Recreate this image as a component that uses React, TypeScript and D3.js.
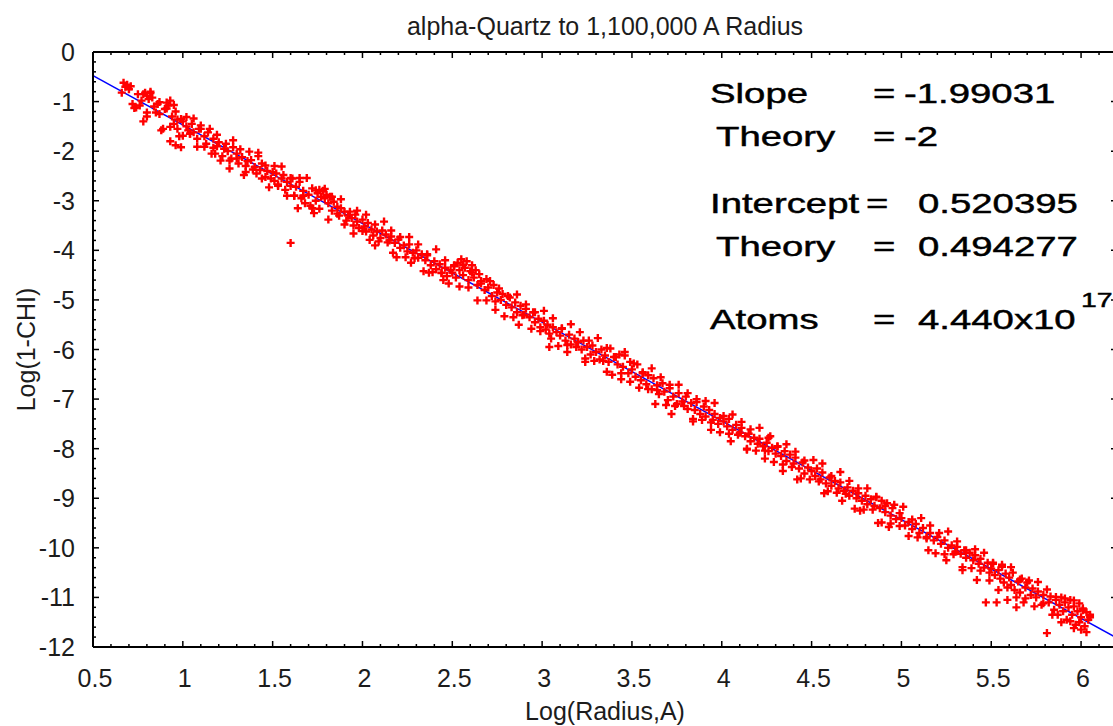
import React from 'react';
import * as d3 from 'd3';

// chart text
const TITLE = 'alpha-Quartz to 1,100,000 A Radius';
const X_LABEL = 'Log(Radius,A)';
const Y_LABEL = 'Log(1-CHI)';

// fit results printed on the chart
const SLOPE = -1.99031;
const INTERCEPT = 0.520395;

const X_TICKS = [0.5, 1, 1.5, 2, 2.5, 3, 3.5, 4, 4.5, 5, 5.5, 6];
const Y_TICKS = [0, -1, -2, -3, -4, -5, -6, -7, -8, -9, -10, -11, -12];

// scatter points, by band of Log(Radius)
const band1: [number, number][] = [
  [0.67, -0.62], [0.68, -0.7], [0.69, -0.66], [0.7, -0.75], [0.66, -0.82], [0.72, -1.05], [0.74, -1.12], [0.76, -1.08],
  [0.77, -0.98], [0.79, -0.82], [0.8, -0.88], [0.81, -0.95], [0.82, -0.8], [0.83, -0.92], [0.78, -1.4], [0.8, -1.3],
  [0.84, -1.1], [0.86, -1.05], [0.87, -1.25], [0.88, -1.58], [0.9, -1.15], [0.91, -1.02], [0.92, -1.08], [0.93, -0.98],
  [0.94, -1.3], [0.95, -1.45], [0.96, -1.2], [0.97, -1.55], [0.98, -1.7], [0.99, -1.35], [1.0, -1.4], [0.93, -1.8],
  [0.96, -1.88], [0.99, -1.92], [1.02, -1.5], [1.03, -1.58],
  [0.71, -0.69], [0.73, -1.13], [0.75, -0.85], [0.78, -0.85], [0.8, -1.22], [0.82, -0.83], [0.85, -1.22], [0.87, -1.01],
  [0.89, -1.55], [0.91, -1.14], [0.93, -1.51], [0.95, -1.07], [0.97, -1.36], [1.0, -1.69],
];
const band2: [number, number][] = [
  [1.04, -1.65], [1.05, -1.45], [1.06, -1.62], [1.08, -1.75], [1.09, -1.55], [1.1, -1.48], [1.12, -1.7], [1.13, -1.85],
  [1.14, -1.62], [1.16, -2.05], [1.17, -1.75], [1.19, -1.9], [1.2, -1.82], [1.22, -2.1], [1.23, -1.95], [1.25, -2.0],
  [1.27, -2.15], [1.28, -1.92], [1.3, -2.05], [1.31, -2.25], [1.33, -2.12], [1.35, -2.3], [1.36, -2.2], [1.38, -2.18],
  [1.4, -2.32], [1.41, -2.45], [1.43, -2.38], [1.44, -2.25], [1.46, -2.52], [1.47, -2.4], [1.49, -2.55], [1.5, -2.42],
  [1.18, -2.05], [1.26, -2.35], [1.34, -2.48], [1.42, -2.1],
  [1.02, -1.31], [1.04, -1.65], [1.06, -1.34], [1.08, -1.91], [1.1, -1.55], [1.12, -1.91], [1.15, -1.55], [1.17, -1.93],
  [1.19, -1.67], [1.21, -2.19], [1.24, -1.85], [1.26, -2.19], [1.28, -1.78], [1.3, -2.15], [1.32, -1.96], [1.35, -2.42],
  [1.37, -2.01], [1.39, -2.37], [1.42, -2.03], [1.44, -2.55], [1.46, -2.29], [1.48, -2.73],
];
const band3: [number, number][] = [
  [1.51, -2.6], [1.52, -2.45], [1.53, -2.7], [1.55, -2.55], [1.56, -2.48], [1.57, -2.78], [1.58, -2.62], [1.6, -3.85],
  [1.6, -2.7], [1.61, -2.55], [1.62, -2.9], [1.63, -2.72], [1.65, -2.62], [1.66, -2.95], [1.67, -2.8], [1.68, -3.05],
  [1.7, -2.88], [1.71, -3.1], [1.72, -2.75], [1.74, -3.0], [1.75, -2.85], [1.76, -2.78], [1.77, -2.92], [1.78, -2.8],
  [1.79, -2.95], [1.8, -2.88], [1.81, -3.05], [1.82, -2.92], [1.83, -3.2], [1.84, -3.02], [1.86, -3.12], [1.87, -3.3],
  [1.88, -3.15], [1.9, -3.22], [1.91, -3.4], [1.92, -3.3], [1.94, -3.35], [1.95, -3.5], [1.96, -3.28], [1.97, -3.42],
  [1.98, -3.55], [2.0, -3.38], [1.64, -3.15], [1.73, -3.25],
  [1.51, -2.3], [1.53, -2.67], [1.55, -2.31], [1.58, -2.9], [1.6, -2.54], [1.62, -2.9], [1.65, -2.54], [1.67, -2.9],
  [1.69, -2.54], [1.72, -3.15], [1.74, -2.79], [1.76, -3.16], [1.79, -2.76], [1.81, -3.38], [1.83, -2.92], [1.86, -3.26],
  [1.88, -2.97], [1.9, -3.48], [1.93, -3.22], [1.95, -3.66], [1.97, -3.2], [2.0, -3.61],
];
const band4: [number, number][] = [
  [2.01, -3.52], [2.02, -3.62], [2.03, -3.45], [2.05, -3.58], [2.06, -3.7], [2.08, -3.62], [2.1, -3.75], [2.11, -3.6],
  [2.13, -3.68], [2.15, -3.8], [2.16, -3.72], [2.18, -3.85], [2.2, -3.78], [2.21, -3.95], [2.23, -3.9], [2.25, -4.02],
  [2.26, -3.88], [2.28, -4.05], [2.3, -4.0], [2.31, -4.15], [2.33, -4.08], [2.35, -4.2], [2.36, -4.1], [2.38, -4.3],
  [2.4, -4.22], [2.41, -4.38], [2.43, -4.28], [2.44, -4.45], [2.46, -4.35], [2.47, -4.52], [2.49, -4.4], [2.07, -3.9],
  [2.17, -4.05], [2.27, -4.25], [2.37, -4.45], [2.45, -4.6],
  [2.02, -3.28], [2.04, -3.79], [2.07, -3.48], [2.09, -3.82], [2.12, -3.42], [2.14, -3.84], [2.16, -3.6], [2.19, -4.14],
  [2.21, -3.73], [2.24, -4.14], [2.26, -3.73], [2.29, -4.16], [2.31, -3.88], [2.34, -4.42], [2.36, -4.08], [2.39, -4.44],
  [2.41, -3.98], [2.44, -4.46], [2.46, -4.2], [2.48, -4.67],
];
const band5: [number, number][] = [
  [2.5, -4.45], [2.51, -4.3], [2.52, -4.55], [2.53, -4.25], [2.54, -4.4], [2.55, -4.18], [2.56, -4.5], [2.57, -4.35],
  [2.58, -4.22], [2.59, -4.6], [2.6, -4.42], [2.61, -4.3], [2.62, -4.55], [2.63, -4.4], [2.64, -4.7], [2.65, -4.48],
  [2.66, -4.62], [2.68, -4.8], [2.69, -4.58], [2.7, -4.75], [2.72, -4.92], [2.73, -4.7], [2.75, -4.85], [2.77, -5.0],
  [2.78, -4.88], [2.8, -5.1], [2.82, -4.95], [2.83, -5.15], [2.85, -5.05], [2.86, -5.25], [2.88, -5.12], [2.9, -5.3],
  [2.91, -5.18], [2.93, -5.35], [2.95, -5.25], [2.96, -5.45], [2.98, -5.38], [2.99, -5.55], [2.74, -5.2], [2.87, -5.5],
  [2.51, -4.32], [2.54, -4.73], [2.56, -4.29], [2.59, -4.75], [2.61, -4.45], [2.64, -5.01], [2.66, -4.67], [2.69, -5.01],
  [2.71, -4.62], [2.74, -5.03], [2.76, -4.77], [2.79, -5.33], [2.81, -4.92], [2.84, -5.35], [2.86, -4.89], [2.89, -5.31],
  [2.91, -5.09], [2.94, -5.58], [2.96, -5.25], [2.99, -5.63],
];
const band6: [number, number][] = [
  [3.01, -5.42], [3.02, -5.6], [3.03, -5.5], [3.05, -5.78], [3.06, -5.55], [3.08, -5.65], [3.1, -5.72], [3.11, -5.58],
  [3.13, -5.82], [3.15, -5.7], [3.16, -5.9], [3.18, -5.78], [3.2, -5.85], [3.22, -6.0], [3.23, -5.82], [3.25, -5.95],
  [3.27, -6.1], [3.28, -5.92], [3.3, -6.05], [3.32, -6.2], [3.33, -6.0], [3.35, -6.12], [3.37, -6.25], [3.38, -5.98],
  [3.4, -6.15], [3.42, -6.3], [3.43, -6.1], [3.45, -6.35], [3.46, -6.05], [3.48, -6.48], [3.49, -6.25], [3.04, -5.95],
  [3.14, -6.05], [3.24, -6.25], [3.36, -6.45], [3.44, -6.6],
  [3.01, -5.22], [3.04, -5.68], [3.06, -5.37], [3.09, -5.93], [3.11, -5.57], [3.14, -5.91], [3.16, -5.49], [3.19, -5.95],
  [3.21, -5.65], [3.24, -6.18], [3.26, -5.82], [3.29, -6.23], [3.31, -5.77], [3.34, -6.23], [3.36, -5.97], [3.39, -6.51],
  [3.41, -6.15], [3.44, -6.48], [3.46, -6.12], [3.49, -6.65],
];
const band7: [number, number][] = [
  [3.5, -6.4], [3.52, -6.55], [3.53, -6.3], [3.55, -6.62], [3.56, -6.48], [3.58, -6.7], [3.59, -6.52], [3.61, -6.8],
  [3.62, -6.58], [3.64, -6.72], [3.65, -6.9], [3.67, -6.68], [3.68, -6.85], [3.7, -7.02], [3.71, -6.78], [3.73, -6.95],
  [3.75, -7.1], [3.76, -6.88], [3.78, -7.05], [3.8, -6.95], [3.81, -7.2], [3.83, -7.08], [3.85, -7.22], [3.86, -7.0],
  [3.88, -7.3], [3.9, -7.15], [3.91, -7.35], [3.93, -7.22], [3.95, -7.42], [3.96, -7.3], [3.98, -7.5], [3.99, -7.38],
  [3.63, -7.1], [3.72, -7.3], [3.84, -7.45], [3.94, -7.62],
  [3.51, -6.28], [3.54, -6.77], [3.56, -6.46], [3.59, -6.8], [3.61, -6.38], [3.64, -6.82], [3.66, -6.56], [3.69, -7.12],
  [3.71, -6.71], [3.74, -7.14], [3.76, -6.71], [3.79, -7.14], [3.81, -6.88], [3.84, -7.4], [3.86, -7.06], [3.89, -7.42],
  [3.91, -7.04], [3.94, -7.47], [3.96, -7.08], [3.99, -7.67],
];
const band8: [number, number][] = [
  [4.01, -7.45], [4.03, -7.55], [4.04, -7.4], [4.06, -7.62], [4.08, -7.52], [4.1, -7.68], [4.11, -7.58], [4.13, -7.75],
  [4.15, -7.7], [4.16, -7.85], [4.18, -7.78], [4.2, -7.9], [4.21, -7.8], [4.23, -7.95], [4.25, -7.88], [4.26, -8.05],
  [4.28, -7.98], [4.3, -8.1], [4.31, -7.95], [4.33, -8.15], [4.35, -8.05], [4.36, -8.25], [4.38, -8.12], [4.4, -8.3],
  [4.41, -8.18], [4.43, -8.4], [4.45, -8.28], [4.46, -8.5], [4.48, -8.38], [4.05, -7.85], [4.14, -8.0], [4.24, -8.2],
  [4.34, -8.45], [4.42, -8.62], [4.27, -7.75],
  [4.01, -7.34], [4.04, -7.7], [4.06, -7.31], [4.09, -7.72], [4.11, -7.46], [4.14, -8.02], [4.16, -7.61], [4.19, -8.04],
  [4.21, -7.58], [4.24, -8.04], [4.26, -7.78], [4.29, -8.27], [4.31, -7.96], [4.34, -8.32], [4.36, -7.91], [4.39, -8.37],
  [4.41, -8.06], [4.44, -8.6], [4.46, -8.24], [4.49, -8.62],
];
const band9: [number, number][] = [
  [4.5, -8.45], [4.52, -8.55], [4.53, -8.4], [4.55, -8.62], [4.56, -8.48], [4.58, -8.7], [4.6, -8.58], [4.61, -8.75],
  [4.63, -8.65], [4.65, -8.8], [4.66, -8.68], [4.68, -8.85], [4.7, -8.78], [4.71, -8.95], [4.73, -8.85], [4.75, -9.0],
  [4.76, -8.9], [4.78, -9.05], [4.8, -8.95], [4.81, -9.12], [4.83, -9.02], [4.85, -9.15], [4.86, -8.98], [4.88, -9.2],
  [4.89, -9.05], [4.91, -9.28], [4.92, -9.1], [4.94, -9.35], [4.95, -9.2], [4.97, -9.42], [4.99, -9.3], [4.57, -8.9],
  [4.67, -9.05], [4.77, -9.25], [4.87, -9.5], [4.93, -9.58],
  [4.51, -8.23], [4.54, -8.66], [4.56, -8.3], [4.59, -8.86], [4.61, -8.55], [4.64, -8.89], [4.66, -8.47], [4.69, -8.91],
  [4.71, -8.65], [4.74, -9.21], [4.76, -8.8], [4.79, -9.23], [4.81, -8.8], [4.84, -9.23], [4.86, -8.97], [4.89, -9.49],
  [4.91, -9.15], [4.94, -9.51], [4.96, -9.13], [4.99, -9.56],
];
const band10: [number, number][] = [
  [5.0, -9.4], [5.02, -9.55], [5.04, -9.48], [5.06, -9.62], [5.08, -9.52], [5.1, -9.7], [5.12, -9.6], [5.14, -9.78],
  [5.16, -9.7], [5.18, -9.85], [5.2, -9.78], [5.22, -9.92], [5.24, -9.85], [5.26, -10.0], [5.28, -9.95], [5.3, -10.08],
  [5.31, -9.98], [5.33, -10.12], [5.35, -10.05], [5.36, -10.2], [5.38, -10.1], [5.4, -10.25], [5.41, -10.15], [5.43, -10.32],
  [5.44, -10.22], [5.46, -10.4], [5.47, -11.1], [5.48, -10.3], [5.49, -10.5], [5.15, -10.05], [5.25, -10.25], [5.34, -10.45],
  [5.42, -10.65],
  [5.01, -9.17], [5.04, -9.76], [5.06, -9.43], [5.09, -9.79], [5.11, -9.4], [5.14, -9.81], [5.16, -9.55], [5.19, -10.11],
  [5.21, -9.7], [5.24, -10.13], [5.26, -9.67], [5.29, -10.13], [5.31, -9.87], [5.34, -10.39], [5.36, -10.05], [5.39, -10.41],
  [5.41, -10.03], [5.44, -10.46], [5.46, -10.1], [5.49, -10.66],
];
const band11: [number, number][] = [
  [5.5, -10.42], [5.51, -10.3], [5.52, -10.55], [5.53, -11.1], [5.54, -10.45], [5.55, -10.62], [5.56, -10.38], [5.57, -10.7],
  [5.58, -10.52], [5.59, -11.05], [5.6, -10.6], [5.61, -10.75], [5.62, -10.5], [5.63, -10.85], [5.64, -11.2], [5.65, -10.68],
  [5.66, -10.9], [5.67, -10.62], [5.68, -11.1], [5.69, -10.8], [5.7, -10.7], [5.72, -10.95], [5.73, -10.82], [5.75, -11.0],
  [5.76, -10.88], [5.78, -11.15], [5.79, -10.95], [5.81, -11.72], [5.82, -11.1], [5.83, -10.98], [5.85, -11.25], [5.86, -11.05],
  [5.87, -11.35], [5.88, -11.15], [5.89, -11.0], [5.9, -11.28], [5.91, -11.1], [5.92, -11.45], [5.93, -11.2], [5.94, -11.05],
  [5.95, -11.35], [5.96, -11.18], [5.97, -11.55], [5.98, -11.28], [5.99, -11.12], [6.0, -11.4], [6.01, -11.22], [6.02, -11.58],
  [6.03, -11.3], [6.04, -11.45], [6.05, -11.35], [5.96, -11.62], [6.0, -11.65],
  [5.51, -10.32], [5.54, -10.85], [5.56, -10.34], [5.59, -10.8], [5.61, -10.39], [5.64, -11.0], [5.66, -10.64], [5.69, -11.02],
  [5.71, -10.66], [5.74, -11.18], [5.76, -10.69], [5.79, -11.12], [5.81, -10.84], [5.84, -11.35], [5.86, -10.99], [5.89, -11.5],
  [5.91, -11.02], [5.94, -11.48], [5.96, -11.06], [5.99, -11.5], [6.01, -11.26], [6.03, -11.7], [6.05, -11.4],
];

const points = [band1, band2, band3, band4, band5, band6, band7, band8, band9, band10, band11].flat();

const W = 1113;
const H = 726;
const FONT = "'Liberation Sans', Arial, sans-serif";
const TEXT = '#1c1c1c';

// the legend text on the chart is stretched sideways
const STRETCH = 1.42;

const App = () => {
  const x = d3.scaleLinear().domain([0.5, 6.2]).range([93, 1117]);
  const y = d3.scaleLinear().domain([-12, 0]).range([647, 52]);

  const xMinor = d3.range(5, 63).map(d => d / 10);
  const yMinor = d3.range(-60, 1).map(d => d / 5);

  const fit = d3.line<number>()
    .x(d => x(d))
    .y(d => y(INTERCEPT + SLOPE * d));

  const [x0, x1] = x.range();
  const [yb, yt] = y.range();

  const note = (tx: number, ty: number, s: string, size = 27) => (
    <text transform={`translate(${tx},${ty}) scale(${STRETCH},1)`} fontSize={size} fill="#000" stroke="#000" strokeWidth={0.45}>{s}</text>
  );

  return (
    <svg width={W} height={H} style={{ position: 'absolute', left: 0, top: 0, background: '#fff' }} fontFamily={FONT}>
      <rect width={W} height={H} fill="#fff" />

      <text x={(x0 + x1) / 2} y={35} textAnchor="middle" fontSize={25} fill={TEXT}>{TITLE}</text>

      {/* fitted line */}
      <path d={fit(x.domain()) || ''} fill="none" stroke="#0000ff" strokeWidth={1.5} />

      {/* data */}
      <g stroke="#ff0000" strokeWidth={2.4}>
        {points.map((d, i) => {
          const px = x(d[0]);
          const py = y(d[1]);
          return <path key={i} d={`M${px - 4},${py}H${px + 4}M${px},${py - 4}V${py + 4}`} />;
        })}
      </g>

      {/* frame */}
      <g stroke="#000" strokeWidth={2} fill="none">
        <line x1={x0} y1={yb} x2={x1} y2={yb} />
        <line x1={x0} y1={yt} x2={x1} y2={yt} />
        <line x1={x0} y1={yt} x2={x0} y2={yb} />
        <line x1={x1} y1={yt} x2={x1} y2={yb} />
      </g>

      {/* ticks pointing inward */}
      <g stroke="#000" strokeWidth={1.5}>
        {xMinor.map((t, i) => {
          const len = X_TICKS.some(m => Math.abs(m - t) < 1e-6) ? 6 : 3;
          return (
            <g key={i}>
              <line x1={x(t)} x2={x(t)} y1={yb} y2={yb - len} />
              <line x1={x(t)} x2={x(t)} y1={yt} y2={yt + len} />
            </g>
          );
        })}
        {yMinor.map((t, i) => {
          const major = Y_TICKS.some(m => Math.abs(m - t) < 1e-6);
          return (
            <g key={i}>
              <line x1={x0} x2={x0 + (major ? 6 : 3)} y1={y(t)} y2={y(t)} />
              {major && <line x1={x1} x2={x1 - 6} y1={y(t)} y2={y(t)} />}
            </g>
          );
        })}
      </g>

      {/* tick labels */}
      <g fontSize={25} fill={TEXT}>
        {X_TICKS.map(t => (
          <text key={t} x={x(t) + 2} y={687} textAnchor="middle">{String(t)}</text>
        ))}
        {Y_TICKS.map(t => (
          <text key={t} x={75} y={y(t) + 9} textAnchor="end">{String(t)}</text>
        ))}
      </g>

      <text x={(x0 + x1) / 2} y={720} textAnchor="middle" fontSize={25} fill={TEXT}>{X_LABEL}</text>
      <text transform={`translate(35,${(yt + yb) / 2}) rotate(-90)`} textAnchor="middle" fontSize={25} fill={TEXT}>{Y_LABEL}</text>

      {/* fit summary */}
      {note(710, 103, 'Slope')}
      {note(873, 103, '=')}
      {note(904, 103, '-1.99031')}
      {note(716, 146, 'Theory')}
      {note(873, 146, '=')}
      {note(904, 146, '-2')}
      {note(710, 213, 'Intercept')}
      {note(866, 213, '=')}
      {note(918, 213, '0.520395')}
      {note(716, 256, 'Theory')}
      {note(873, 256, '=')}
      {note(918, 256, '0.494277')}
      {note(710, 329, 'Atoms')}
      {note(873, 329, '=')}
      {note(918, 329, '4.440x10')}
      {note(1081, 307, '17', 20)}
    </svg>
  );
};

export default App;
